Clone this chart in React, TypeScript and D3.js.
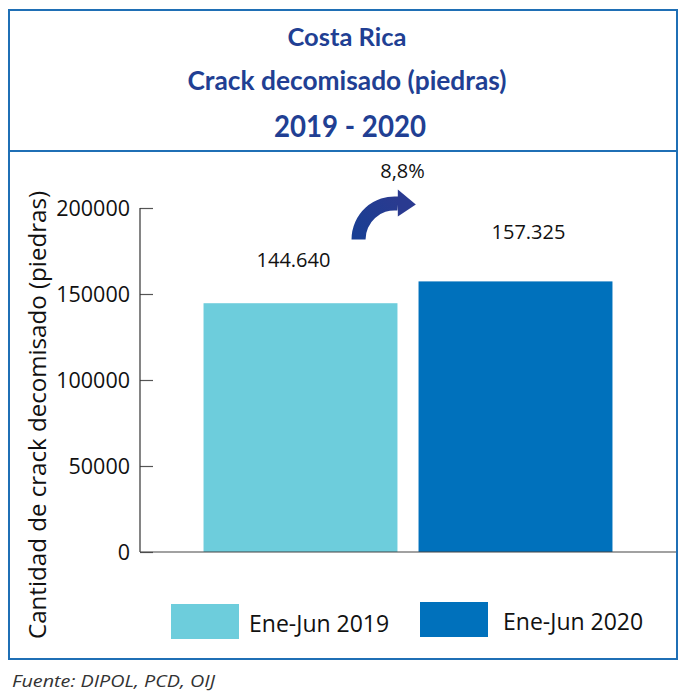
import React, { useEffect, useRef } from 'react'
import * as d3 from 'd3'

const categories = ['Ene-Jun 2019', 'Ene-Jun 2020']
const values = [144640, 157325]
const valueLabels = ['144.640', '157.325']
const barColors = ['#6dcddc', '#0071bc']
const yTicks = [0, 50000, 100000, 150000, 200000]
const changeLabel = '8,8%'
const titleLines = ['Costa Rica', 'Crack decomisado (piedras)']
const yearLine = '2019 - 2020'
const yAxisLabel = 'Cantidad de crack decomisado (piedras)'
const sourceNote = 'Fuente: DIPOL, PCD, OIJ'

const W = 678
const H = 692
const font = '"Open Sans", "Noto Sans", sans-serif'
const titleFont = 'Lato, "Open Sans", sans-serif'
const titleColor = '#213f93'
const frameColor = '#1f6fb5'

const App = (): JSX.Element => {
  const ref = useRef<SVGSVGElement>(null)

  useEffect(() => {
    const svg = d3.select(ref.current)
    svg.selectAll('*').remove()

    const x = d3
      .scaleBand<string>()
      .domain(categories)
      .range([140, 676])
      .paddingInner(0.098)
      .paddingOuter(0.2955)
    const y = d3.scaleLinear().domain([0, 200000]).range([552, 208])

    // frame
    svg
      .append('rect')
      .attr('x', 9)
      .attr('y', 10)
      .attr('width', 668)
      .attr('height', 649)
      .attr('fill', 'none')
      .attr('stroke', frameColor)
      .attr('stroke-width', 2)
    svg
      .append('line')
      .attr('x1', 9)
      .attr('x2', 677)
      .attr('y1', 151)
      .attr('y2', 151)
      .attr('stroke', frameColor)
      .attr('stroke-width', 2)

    // titles
    titleLines.forEach((t, i) => {
      svg
        .append('text')
        .attr('x', 347)
        .attr('y', 46 + i * 44)
        .attr('text-anchor', 'middle')
        .attr('font-family', titleFont)
        .attr('font-weight', 'bold')
        .attr('font-size', i === 0 ? 25 : 26)
        .attr('textLength', i === 0 ? 119 : 319)
        .attr('lengthAdjust', 'spacingAndGlyphs')
        .attr('fill', titleColor)
        .text(t)
    })
    svg
      .append('text')
      .attr('x', 350)
      .attr('y', 137)
      .attr('text-anchor', 'middle')
      .attr('font-family', titleFont)
      .attr('font-weight', 'bold')
      .attr('font-size', 30)
      .attr('textLength', 152)
      .attr('lengthAdjust', 'spacingAndGlyphs')
      .attr('fill', titleColor)
      .text(yearLine)

    // bars
    svg
      .append('g')
      .selectAll('rect')
      .data(values)
      .join('rect')
      .attr('x', (d, i) => x(categories[i]) as number)
      .attr('y', d => y(d))
      .attr('width', x.bandwidth())
      .attr('height', d => y(0) - y(d))
      .attr('fill', (d, i) => barColors[i])

    // y axis
    const yAxis = d3.axisLeft(y).tickValues(yTicks).tickSize(-13).tickFormat(d => String(d))
    svg
      .append('g')
      .attr('transform', 'translate(140,0)')
      .call(g => {
        g.call(yAxis)
        g.select('.domain').remove()
        g.selectAll('.tick line').attr('stroke', '#555').attr('stroke-width', 1.2)
        g.selectAll('.tick text')
          .attr('x', -10)
          .attr('dy', '0.36em')
          .attr('fill', '#111')
          .attr('font-family', font)
          .attr('font-size', 21.5)
      })
    svg
      .append('line')
      .attr('x1', 140)
      .attr('x2', 140)
      .attr('y1', y(200000))
      .attr('y2', y(0))
      .attr('stroke', '#333')
      .attr('stroke-width', 1.2)
    svg
      .append('line')
      .attr('x1', 140)
      .attr('x2', 676)
      .attr('y1', y(0))
      .attr('y2', y(0))
      .attr('stroke', '#444')
      .attr('stroke-width', 1.2)

    // value labels
    const labelDx = [-7, 13]
    const labelDy = [-36, -42]
    svg
      .append('g')
      .selectAll('text')
      .data(values)
      .join('text')
      .attr('x', (d, i) => (x(categories[i]) as number) + x.bandwidth() / 2 + labelDx[i])
      .attr('y', (d, i) => y(d) + labelDy[i])
      .attr('text-anchor', 'middle')
      .attr('font-family', font)
      .attr('font-size', 20)
      .attr('fill', '#111')
      .text((d, i) => valueLabels[i])

    // change arrow between the two bars
    const cx = (x(categories[1]) as number) - 24
    const cy = y(values[1]) - 42
    const rOut = 43
    const rIn = 29
    const defs = svg.append('defs')
    const grad = defs
      .append('linearGradient')
      .attr('id', 'arrowGrad')
      .attr('x1', '0%')
      .attr('y1', '100%')
      .attr('x2', '100%')
      .attr('y2', '0%')
    grad.append('stop').attr('offset', '0%').attr('stop-color', '#173f94')
    grad.append('stop').attr('offset', '100%').attr('stop-color', '#2b3a8f')
    const arc = d3
      .arc()
      .innerRadius(rIn)
      .outerRadius(rOut)
      .startAngle(-Math.PI / 2)
      .endAngle(0.1)
    svg
      .append('path')
      .attr('transform', `translate(${cx},${cy})`)
      .attr('d', arc(null as any) as string)
      .attr('fill', 'url(#arrowGrad)')
    const hx = cx + rOut * Math.sin(0.1) - 1
    const hy = cy - (rIn + rOut) / 2
    svg
      .append('path')
      .attr('d', `M${hx},${hy - 14}L${hx + 18},${hy + 1}L${hx},${hy + 13}Z`)
      .attr('fill', '#2a3a90')
    svg
      .append('text')
      .attr('x', cx + 8)
      .attr('y', 178)
      .attr('text-anchor', 'middle')
      .attr('font-family', font)
      .attr('font-size', 20)
      .attr('fill', '#111')
      .text(changeLabel)

    // y axis title
    svg
      .append('text')
      .attr('transform', 'translate(46,415) rotate(-90)')
      .attr('text-anchor', 'middle')
      .attr('font-family', font)
      .attr('font-size', 23.5)
      .attr('textLength', 448)
      .attr('lengthAdjust', 'spacingAndGlyphs')
      .attr('fill', '#111')
      .text(yAxisLabel)

    // legend
    const legendX = [171, 420]
    const legendY = [604, 602]
    categories.forEach((c, i) => {
      svg
        .append('rect')
        .attr('x', legendX[i])
        .attr('y', legendY[i])
        .attr('width', 68)
        .attr('height', 35)
        .attr('fill', barColors[i])
      svg
        .append('text')
        .attr('x', legendX[i] + 78 + i * 5)
        .attr('y', legendY[i] + 27.5)
        .attr('font-family', font)
        .attr('font-size', 23)
        .attr('fill', '#111')
        .text(c)
    })

    // source note
    svg
      .append('text')
      .attr('x', 12)
      .attr('y', 687)
      .attr('font-family', font)
      .attr('font-style', 'italic')
      .attr('font-size', 17)
      .attr('textLength', 203)
      .attr('lengthAdjust', 'spacingAndGlyphs')
      .attr('fill', '#333')
      .text(sourceNote)
  }, [])

  return (
    <svg
      ref={ref}
      width={W}
      height={H}
      style={{ position: 'absolute', left: 0, top: 0, background: '#fff' }}
    />
  )
}

export default App
